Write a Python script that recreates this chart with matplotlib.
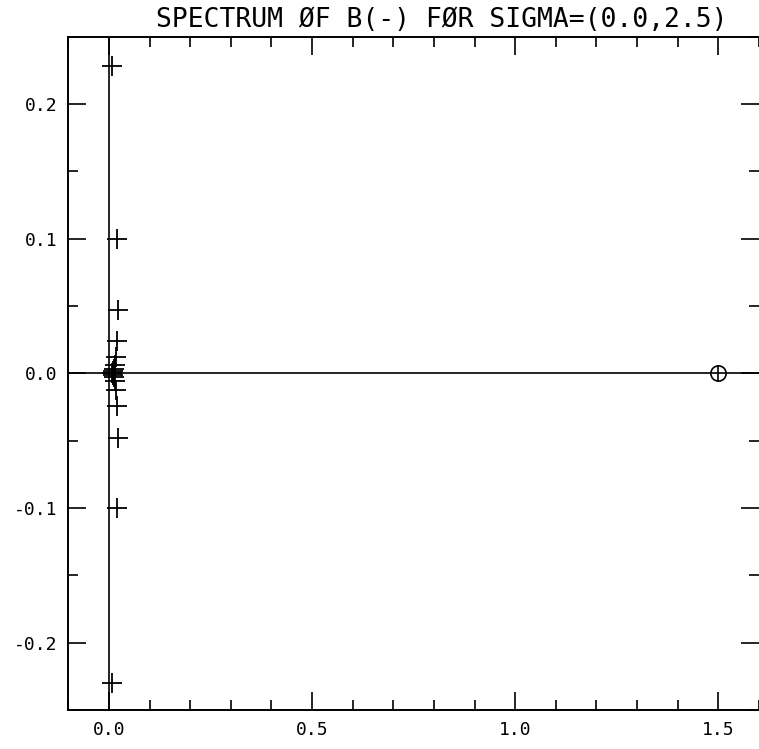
import numpy as np
import matplotlib
matplotlib.use("Agg")
import matplotlib.pyplot as plt
from matplotlib.ticker import MultipleLocator

re_vals = [0.008, 0.020, 0.022, 0.020, 0.018, 0.015, 0.012, 0.010, 0.008,
           0.010, 0.012, 0.015, 0.018, 0.020, 0.022, 0.020, 0.008]
im_vals = [0.228, 0.100, 0.047, 0.024, 0.012, 0.006, 0.003, 0.0015, 0.0,
           -0.0015, -0.003, -0.006, -0.012, -0.024, -0.048, -0.100, -0.230]
# isolated eigenvalue marked with a circle
iso_re = [1.5]
iso_im = [0.0]

title = "SPECTRUM ØF B(-) FØR SIGMA=(0.0,2.5)"
font = "DejaVu Sans Mono"

fig = plt.figure(figsize=(7.59, 7.49), dpi=100)
ax = fig.add_axes([0.09, 0.052, 0.91, 0.899])

ax.set_xlim(-0.1, 1.6)
ax.set_ylim(-0.25, 0.25)

# axis lines through origin
ax.axhline(0, color="black", lw=1.2)
ax.axvline(0, color="black", lw=1.2)

ax.plot(re_vals, im_vals, "+", color="black", ms=14, mew=1.3)
ax.plot(iso_re, iso_im, "o", mfc="none", mec="black", ms=11, mew=1.2)
ax.plot(iso_re, iso_im, "|", color="black", ms=11, mew=1.2)

for s in ["left", "top", "bottom"]:
    ax.spines[s].set_linewidth(1.4)
ax.spines["right"].set_visible(False)

ax.xaxis.set_major_locator(MultipleLocator(0.5))
ax.xaxis.set_minor_locator(MultipleLocator(0.1))
ax.yaxis.set_major_locator(MultipleLocator(0.1))
ax.yaxis.set_minor_locator(MultipleLocator(0.05))
ax.xaxis.set_major_formatter(plt.FuncFormatter(lambda v, p: "%.1f" % v))
ax.yaxis.set_major_formatter(plt.FuncFormatter(lambda v, p: "%.1f" % (0.0 if abs(v) < 1e-9 else v)))

ax.tick_params(which="both", direction="in", top=True, right=True,
               width=1.2, labelsize=13, colors="black")
ax.tick_params(which="major", length=13, pad=8)
ax.tick_params(which="minor", length=7)
for lab in ax.get_xticklabels() + ax.get_yticklabels():
    lab.set_family(font)

ax.text(0.54, 1.006, title, transform=ax.transAxes, ha="center", va="bottom",
        fontsize=19, family=font)

fig.savefig("out.png", dpi=100)
